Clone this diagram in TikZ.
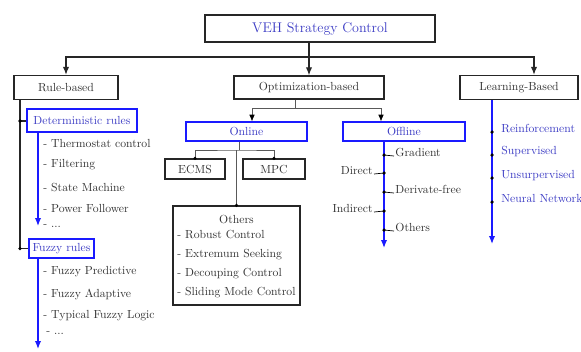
\documentclass[tikz,border=0pt]{standalone}
\usepackage{xcolor}
\usepackage{tikz}
\usetikzlibrary{arrows.meta, positioning, calc}
\definecolor{vehblue}{HTML}{3C3CC4}
\definecolor{trunkblue}{HTML}{1A1AFF}
\definecolor{inkgray}{HTML}{333333}
\tikzset{
  box/.style={draw=black!85, line width=1.1pt, text=inkgray, inner sep=2pt},
  bluebox/.style={draw=trunkblue, line width=1.1pt, text=vehblue, inner sep=2pt},
  item/.style={anchor=west, text=inkgray, inner sep=1pt},
  tag/.style={text=inkgray, inner sep=1pt},
  blueitem/.style={anchor=base west, text=vehblue, inner sep=1pt},
  link/.style={draw=black!85, line width=1pt},
  arr/.style={link, -{Latex[length=2.4mm,width=1.9mm]}},
  thinlink/.style={draw=black!65, line width=0.6pt},
  thinarr/.style={thinlink, -{Latex[length=2mm,width=1.7mm,color=black]}},
  tick/.style={draw=black, line width=0.6pt},
  trunk/.style={draw=trunkblue, line width=1.1pt, -{Latex[length=2.4mm,width=1.9mm]}},
}
\begin{document}
\begin{tikzpicture}[x=0.03cm, y=-0.03cm]
  \useasboundingbox (0,0) rectangle (581,351);
  % top level
  \node[box, minimum width=6.9cm, minimum height=0.81cm, font=\large, text=vehblue] (veh) at (320,28.5) {VEH Strategy Control};
  \node[box, minimum width=3.12cm, minimum height=0.72cm] (rule) at (66,87.5) {Rule-based};
  \node[box, minimum width=4.5cm, minimum height=0.69cm] (opt) at (309,87.5) {Optimization-based};
  \node[box, minimum width=3.54cm, minimum height=0.72cm] (learn) at (519,87.5) {Learning-Based};
  % top connectors
  \coordinate (hub) at (309,57);
  \coordinate (lx) at (534,0);
  \draw[link] (veh.south -| hub) -- (hub);
  \draw[arr] (hub) -| (rule.north);
  \draw[arr] (hub) -- (opt.north);
  \draw[arr] (hub) -| (learn.north -| lx);

  % rule-based branch
  \node[bluebox, minimum width=3.3cm, minimum height=0.69cm] (determ) at (82,120.5) {Deterministic rules};
  \node[bluebox, minimum width=1.95cm, minimum height=0.57cm] (fuzzy) at (61.5,248.5) {Fuzzy rules};
  \coordinate (rk1) at (20,121);
  \coordinate (rk2) at (20,248.5);
  \draw[link] (rule.south -| rk1) -- (rk2) -- (fuzzy.west);
  \draw[link] (rk1) -- (rk1 -| determ.west);
  \fill (rk1) circle (1.5pt);
  \fill (rk2) circle (1.5pt);
  \coordinate (dend) at (38,226);
  \coordinate (fend) at (38,349);
  \draw[trunk] (determ.south -| dend) -- (dend);
  \draw[trunk] (fuzzy.south -| fend) -- (fend);
  \node[item] (d1) at (42,143) {- Thermostat control};
  \node[item] (d2) at (42,165) {- Filtering};
  \node[item] (d3) at (42,187) {- State Machine};
  \node[item] (d4) at (42,208) {- Power Follower};
  \node[item] (d5) at (42,226) {- ...};
  \node[item] (f1) at (42,272) {- Fuzzy Predictive};
  \node[item] (f2) at (42,294) {- Fuzzy Adaptive};
  \node[item] (f3) at (42,316) {- Typical Fuzzy Logic};
  \node[item] (f4) at (45,333) {- ...};

  % optimization-based branch
  \node[bluebox, minimum width=3.63cm, minimum height=0.57cm] (online) at (246.5,131.5) {Online};
  \node[bluebox, minimum width=3.66cm, minimum height=0.57cm] (offline) at (404,131.5) {Offline};
  \coordinate (ohub) at (295,108);
  \coordinate (onx) at (252,0);
  \coordinate (offx) at (381,0);
  \draw[thinlink] (opt.south -| ohub) -- (ohub);
  \draw[thinarr] (ohub) -| (online.north -| onx);
  \draw[thinarr] (ohub) -| (offline.north -| offx);

  % online
  \node[box, minimum width=1.8cm, minimum height=0.6cm] (ecms) at (195,169) {ECMS};
  \node[box, minimum width=1.86cm, minimum height=0.6cm] (mpc) at (274,169) {MPC};
  \node[box, minimum width=3.81cm, minimum height=2.97cm] (others) at (236.5,255.5)
    {\renewcommand{\arraystretch}{1.35}\begin{tabular}{@{}l@{}}\multicolumn{1}{c}{Others}\\[-3pt]- Robust Control\\- Extremum Seeking\\- Decouping Control\\- Sliding Mode Control\end{tabular}};
  \coordinate (onhub) at (239,150);
  \draw[thinlink] (online.south -| onhub) -- (onhub);
  \draw[thinlink] (ecms.north) |- (onhub) -| (mpc.north);
  \draw[thinlink] (others.north) -- (others.north |- onhub);
  \fill (ecms.north) circle (1.5pt);
  \fill (mpc.north) circle (1.5pt);
  \fill (others.north) circle (1.5pt);

  % offline
  \coordinate (offend) at (384,248);
  \draw[trunk] (offline.south -| offend) -- (offend);
  \coordinate (g1) at (384,155);
  \coordinate (g2) at (384,173);
  \coordinate (g3) at (384,192);
  \coordinate (g4) at (384,211);
  \coordinate (g5) at (384,230);
  \node[tag, anchor=base west] (grad) at (394,156) {Gradient};
  \node[tag, anchor=base east] (direct) at (374,174) {Direct};
  \node[tag, anchor=base west] (dfree) at (394,193) {Derivate-free};
  \node[tag, anchor=base east] (indirect) at (374,212) {Indirect};
  \node[tag, anchor=base west] (oth) at (394,231) {Others};
  \draw[tick] (g1) -- (grad.base west);
  \draw[tick] (direct.base east) -- (g2);
  \draw[tick] (g3) -- (dfree.base west);
  \draw[tick] (indirect.base east) -- (g4);
  \draw[tick] (g5) -- (oth.base west);
  \foreach \g in {g1,g2,g3,g4,g5} \fill (\g) circle (1.5pt);

  % learning-based branch
  \coordinate (lend) at (492,244);
  \draw[trunk] (learn.south -| lend) -- (lend);
  \coordinate (l1) at (492,132);
  \coordinate (l2) at (492,155);
  \coordinate (l3) at (492,178);
  \coordinate (l4) at (492,202);
  \foreach \l in {l1,l2,l3,l4} \fill (\l) circle (1.5pt);
  \node[blueitem] (reinf) at (500,132) {Reinforcement};
  \node[blueitem] (superv) at (500,154) {Supervised};
  \node[blueitem] (unsup) at (500,178) {Unsurpervised};
  \node[blueitem] (neural) at (500,202) {Neural Network};
\end{tikzpicture}
\end{document}
